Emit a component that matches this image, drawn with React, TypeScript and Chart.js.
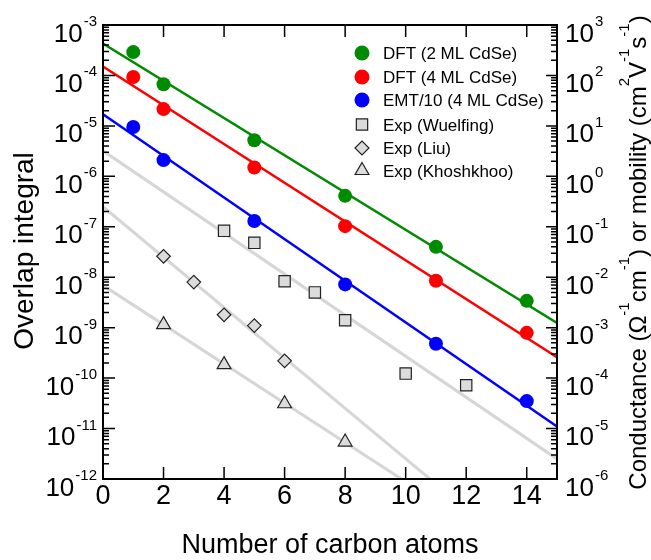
import { useEffect, useRef } from 'react';
import { Chart, registerables } from 'chart.js';
import { drawPoint } from 'chart.js/helpers';

Chart.register(...registerables);

// ---- tick labels ----
const xTicks = [0, 2, 4, 6, 8, 10, 12, 14];
const leftExponents = [-12, -11, -10, -9, -8, -7, -6, -5, -4, -3];
const rightExponents = [-6, -5, -4, -3, -2, -1, 0, 1, 2, 3];

// ---- data ----
const xDFT = [1, 2, 5, 8, 11, 14];
const dft2ML = [2.9e-4, 6.7e-5, 5.2e-6, 4.1e-7, 4.0e-8, 3.4e-9];
const dft4ML = [9.3e-5, 2.15e-5, 1.5e-6, 1.03e-7, 8.5e-9, 7.9e-10];
const emt4ML = [9.5e-6, 2.1e-6, 1.3e-7, 7.2e-9, 4.8e-10, 3.5e-11];

const xWuelfing = [4, 5, 6, 7, 8, 10, 12];
const expWuelfing = [8.3e-8, 4.8e-8, 8.3e-9, 5.0e-9, 1.4e-9, 1.23e-10, 7.2e-11];
const xLiu = [2, 3, 4, 5, 6];
const expLiu = [2.6e-8, 8.0e-9, 1.8e-9, 1.1e-9, 2.2e-10];
const xKhoshkhoo = [2, 4, 6, 8];
const expKhoshkhoo = [1.15e-9, 1.85e-10, 3.1e-11, 5.4e-12];

// fit lines: values at x = 0 and x = 15
const fitX = [0, 15];
const fitDFT2 = [4.3e-4, 1.24e-9];
const fitDFT4 = [1.5e-4, 2.6e-10];
const fitEMT = [1.7e-5, 1.1e-11];
const fitWuelfing = [3.2e-6, 2.5e-12];
const fitLiu = [2.5e-7, 8e-15];
const fitKhoshkhoo = [6.9e-9, 1.0e-14];

const GREEN = '#008b00';
const RED = '#ff0000';
const BLUE = '#0000ff';
const GREY_LINE = '#d6d6d6';
const GREY_FILL = '#dcdcdc';
const MARK_EDGE = '#222222';
const FONT = '"Liberation Sans", Arial, Helvetica, sans-serif';

const pts = (xs: number[], ys: number[]) => xs.map((x, i) => ({ x, y: ys[i] }));

function drawPow(ctx: CanvasRenderingContext2D, exp: number, x: number, y: number, align: 'left' | 'right') {
  const base = '10';
  const sup = String(exp);
  ctx.font = `26px ${FONT}`;
  const wb = ctx.measureText(base).width;
  ctx.font = `15px ${FONT}`;
  const ws = ctx.measureText(sup).width;
  const start = align === 'right' ? x - wb - ws - 1 : x;
  ctx.textAlign = 'left';
  ctx.textBaseline = 'alphabetic';
  ctx.font = `26px ${FONT}`;
  ctx.fillText(base, start, y + 16.5);
  ctx.font = `15px ${FONT}`;
  ctx.fillText(sup, start + wb + 1, y + 1);
}

const framePlugin = {
  id: 'frameAndLabels',
  afterDraw(chart: any) {
    const { ctx, chartArea } = chart;
    const { left, right, top, bottom } = chartArea;
    const sx = chart.scales.x;
    const sy = chart.scales.y;
    const sy2 = chart.scales.y2;
    ctx.save();
    ctx.strokeStyle = '#000';
    ctx.fillStyle = '#000';

    // ticks
    ctx.lineWidth = 1.5;
    ctx.beginPath();
    for (const t of xTicks) {
      const px = sx.getPixelForValue(t);
      ctx.moveTo(px, bottom);
      ctx.lineTo(px, bottom - 12);
      ctx.moveTo(px, top);
      ctx.lineTo(px, top + 12);
    }
    for (const e of leftExponents) {
      for (let m = 1; m <= 9; m++) {
        const v = m * Math.pow(10, e);
        if (v > sy.max * 1.0001) continue;
        const py = sy.getPixelForValue(v);
        const len = m === 1 ? 12 : 6;
        ctx.moveTo(left, py);
        ctx.lineTo(left + len, py);
      }
    }
    for (const e of rightExponents) {
      for (let m = 1; m <= 9; m++) {
        const v = m * Math.pow(10, e);
        if (v > sy2.max * 1.0001) continue;
        const py = sy2.getPixelForValue(v);
        const len = m === 1 ? 11 : 6;
        ctx.moveTo(right, py);
        ctx.lineTo(right - len, py);
      }
    }
    ctx.stroke();

    // frame
    ctx.lineWidth = 2;
    ctx.strokeRect(left, top, right - left, bottom - top);

    // x tick labels
    ctx.font = `27px ${FONT}`;
    ctx.textAlign = 'center';
    ctx.textBaseline = 'alphabetic';
    for (const t of xTicks) {
      ctx.fillText(String(t), sx.getPixelForValue(t), bottom + 25);
    }
    // y tick labels
    for (const e of leftExponents) {
      drawPow(ctx, e, left - 6, sy.getPixelForValue(Math.pow(10, e)), 'right');
    }
    for (const e of rightExponents) {
      drawPow(ctx, e, right + 8, sy2.getPixelForValue(Math.pow(10, e)), 'left');
    }

    // x title
    ctx.font = `27px ${FONT}`;
    ctx.textAlign = 'center';
    ctx.fillText('Number of carbon atoms', (left + right) / 2, 553);

    // left title
    ctx.save();
    ctx.translate(33, 251);
    ctx.rotate(-Math.PI / 2);
    ctx.font = `28px ${FONT}`;
    ctx.textAlign = 'center';
    ctx.fillText('Overlap integral', 0, 0);
    ctx.restore();

    // right title with superscripts
    const segs: [string, boolean][] = [
      ['Conductance (\u03A9', false], ['-1', true], ['cm', false], ['-1', true],
      [') or mobility (cm', false], ['2', true], ['V', false], ['-1', true],
      ['s', false], ['-1', true], [')', false],
    ];
    const mainF = `24px ${FONT}`;
    const supF = `15px ${FONT}`;
    let total = 0;
    for (const [s, sup] of segs) {
      ctx.font = sup ? supF : mainF;
      total += ctx.measureText(s).width;
    }
    ctx.save();
    ctx.translate(646, 252.5);
    ctx.rotate(-Math.PI / 2);
    ctx.textAlign = 'left';
    let cx = -total / 2;
    for (const [s, sup] of segs) {
      ctx.font = sup ? supF : mainF;
      ctx.fillText(s, cx, sup ? -17 : 0);
      cx += ctx.measureText(s).width;
    }
    ctx.restore();

    // legend
    const legendIdx = [0, 1, 2, 3, 4, 5];
    const rowY = [53, 77, 100, 124.5, 148, 170.5];
    ctx.font = `17px ${FONT}`;
    ctx.textAlign = 'left';
    legendIdx.forEach((di, k) => {
      const ds = chart.data.datasets[di];
      const y = rowY[k];
      ctx.fillStyle = ds.backgroundColor;
      ctx.strokeStyle = ds.borderColor;
      ctx.lineWidth = ds.borderWidth;
      drawPoint(ctx, { pointStyle: ds.pointStyle, radius: ds.legendRadius, rotation: 0, borderWidth: ds.borderWidth }, 362, y);
      ctx.fillStyle = '#000';
      ctx.fillText(ds.label, 383, y + 6.3);
    });
    ctx.restore();
  },
};

export default function App() {
  const ref = useRef<HTMLCanvasElement>(null);
  useEffect(() => {
    if (!ref.current) return;
    const markerDS = (label: string, xs: number[], ys: number[], style: string, r: number, lr: number, fill: string, edge: string, bw: number) => ({
      label,
      data: pts(xs, ys),
      showLine: false,
      pointStyle: style,
      pointRadius: r,
      legendRadius: lr,
      backgroundColor: fill,
      borderColor: edge,
      borderWidth: bw,
      pointBackgroundColor: fill,
      pointBorderColor: edge,
      pointBorderWidth: bw,
    });
    const lineDS = (ys: number[], color: string, w: number) => ({
      label: '',
      data: pts(fitX, ys),
      showLine: true,
      pointRadius: 0,
      borderColor: color,
      borderWidth: w,
      backgroundColor: color,
      fill: false,
    });
    const chart = new Chart(ref.current, {
      type: 'scatter',
      data: {
        datasets: [
          markerDS('DFT (2 ML CdSe)', xDFT, dft2ML, 'circle', 7, 7.5, GREEN, GREEN, 0),
          markerDS('DFT (4 ML CdSe)', xDFT, dft4ML, 'circle', 7, 7.5, RED, RED, 0),
          markerDS('EMT/10 (4 ML CdSe)', xDFT, emt4ML, 'circle', 7, 7.5, BLUE, BLUE, 0),
          markerDS('Exp (Wuelfing)', xWuelfing, expWuelfing, 'rect', 8, 8, GREY_FILL, MARK_EDGE, 1.2),
          markerDS('Exp (Liu)', xLiu, expLiu, 'rectRot', 6.8, 7, GREY_FILL, MARK_EDGE, 1.2),
          markerDS('Exp (Khoshkhoo)', xKhoshkhoo, expKhoshkhoo, 'triangle', 8, 8, GREY_FILL, MARK_EDGE, 1.2),
          lineDS(fitDFT2, GREEN, 2.5),
          lineDS(fitDFT4, RED, 2.5),
          lineDS(fitEMT, BLUE, 2.5),
          lineDS(fitWuelfing, GREY_LINE, 3),
          lineDS(fitLiu, GREY_LINE, 3),
          lineDS(fitKhoshkhoo, GREY_LINE, 3),
        ] as any,
      },
      options: {
        animation: false,
        responsive: false,
        events: [],
        layout: { padding: { left: 103, right: 94, top: 25, bottom: 81 } },
        scales: {
          x: { type: 'linear', min: 0, max: 15, display: false },
          y: { type: 'logarithmic', min: 1e-12, max: 1e-3, display: false },
          y2: { type: 'logarithmic', min: 1e-6, max: 1e3, display: false, position: 'right' },
        },
        plugins: { legend: { display: false }, tooltip: { enabled: false } },
      } as any,
      plugins: [framePlugin],
    });
    return () => chart.destroy();
  }, []);
  return (
    <div style={{ position: 'absolute', left: 0, top: 0, width: 651, height: 560, background: '#fff' }}>
      <canvas ref={ref} width={651} height={560} style={{ display: 'block', width: 651, height: 560 }} />
    </div>
  );
}
